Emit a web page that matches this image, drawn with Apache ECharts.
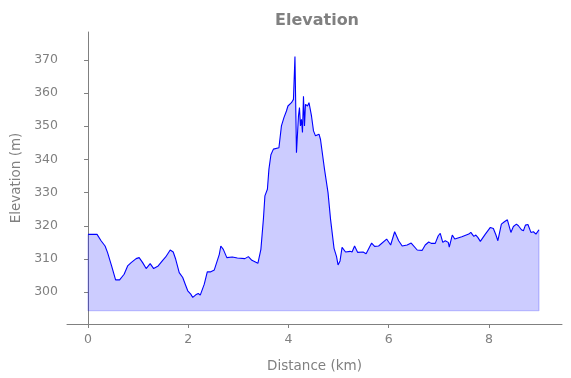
<!DOCTYPE html>
<html>
<head>
<meta charset="utf-8">
<script src="https://cdn.jsdelivr.net/npm/echarts@6/dist/echarts.min.js"></script>
<style>
  html, body { margin: 0; padding: 0; background: #fff; }
  #chart { width: 571px; height: 378px; }
</style>
</head>
<body>
<div id="chart"></div>
<script>
// distance along the track (km)
const distance = [
  0.00, 0.18, 0.26, 0.34, 0.39, 0.47, 0.55, 0.63, 0.72, 0.79, 0.86, 0.96, 1.02, 1.09, 1.16, 1.24,
  1.31, 1.40, 1.49, 1.55, 1.64, 1.70, 1.75, 1.82, 1.89, 1.94, 1.99, 2.05, 2.09, 2.15, 2.20, 2.24,
  2.32, 2.38, 2.44, 2.52, 2.62, 2.65, 2.70, 2.77, 2.88, 2.98, 3.13, 3.20, 3.27, 3.39, 3.45, 3.50,
  3.53, 3.58, 3.61, 3.65, 3.70, 3.81, 3.86, 3.91, 3.96, 3.99, 4.02, 4.06, 4.10, 4.13, 4.16, 4.20,
  4.22, 4.24, 4.26, 4.28, 4.30, 4.32, 4.34, 4.38, 4.41, 4.46, 4.50, 4.54, 4.61, 4.64, 4.72, 4.79,
  4.84, 4.91, 4.96, 4.99, 5.03, 5.07, 5.14, 5.23, 5.27, 5.32, 5.38, 5.49, 5.55, 5.66, 5.72, 5.80,
  5.96, 6.04, 6.12, 6.20, 6.27, 6.37, 6.45, 6.57, 6.67, 6.73, 6.80, 6.85, 6.93, 6.99, 7.03, 7.08,
  7.13, 7.19, 7.21, 7.27, 7.32, 7.46, 7.60, 7.64, 7.70, 7.74, 7.78, 7.83, 7.93, 8.03, 8.09, 8.14,
  8.18, 8.25, 8.31, 8.37, 8.44, 8.49, 8.55, 8.59, 8.65, 8.69, 8.73, 8.76, 8.78, 8.84, 8.89, 8.94,
  9.00
];
// elevation (m)
const elevation = [
  317.4, 317.4, 315.5, 313.9, 311.9, 307.9, 303.7, 303.7, 305.4, 307.9, 308.9, 310.1, 310.4, 308.9, 307.1, 308.6,
  307.1, 307.9, 309.6, 310.6, 312.7, 312.1, 309.9, 305.9, 304.4, 302.4, 300.4, 299.4, 298.4, 299.2, 299.6, 299.1,
  302.4, 306.1, 306.1, 306.7, 311.4, 313.9, 312.9, 310.4, 310.6, 310.3, 310.1, 310.7, 309.6, 308.7, 312.9, 322.0,
  329.0, 331.0, 337.0, 341.4, 343.1, 343.5, 350.1, 352.6, 354.6, 356.1, 355.6, 357.1, 358.1, 371.0, 342.0, 353.1,
  355.6, 350.1, 352.1, 348.1, 359.0, 350.1, 356.6, 356.1, 357.1, 353.1, 348.6, 347.1, 347.6, 346.0, 337.0, 330.0,
  322.0, 313.2, 310.7, 308.2, 309.4, 313.5, 312.1, 312.3, 312.1, 313.9, 312.0, 312.1, 311.6, 314.8, 313.8, 313.9,
  316.0, 314.2, 318.2, 315.5, 313.9, 314.2, 314.8, 312.7, 312.6, 314.2, 315.1, 314.7, 314.7, 317.0, 317.7, 315.0,
  315.5, 315.0, 313.6, 317.2, 316.0, 316.7, 317.5, 318.0, 316.8, 317.2, 316.5, 315.3, 317.5, 319.5, 319.2, 317.3,
  315.5, 320.5, 321.2, 321.8, 318.0, 319.8, 320.5, 320.0, 318.8, 318.5, 320.2, 319.8, 320.4, 318.0, 318.2, 317.5,
  318.8
];
const fillBase = 294.4;
const xTicks = [0, 2, 4, 6, 8];
const yTicks = [300, 310, 320, 330, 340, 350, 360, 370];

const gray = '#808080';
const font = 'DejaVu Sans';

const profile = distance.map((d, i) => [d, elevation[i]]);
const last = distance.length - 1;
// outline of the filled region (left edge, base, right edge)
const fillEdge = [
  [distance[0], elevation[0]],
  [distance[0], fillBase],
  [distance[last], fillBase],
  [distance[last], elevation[last]]
];

const chart = echarts.init(document.getElementById('chart'));
chart.setOption({
  animation: false,
  backgroundColor: '#fff',
  title: {
    text: 'Elevation',
    left: 270,
    top: 8,
    textStyle: { color: gray, fontFamily: font, fontSize: 16, fontWeight: 'bold' }
  },
  grid: { left: 67, right: 9, top: 32, bottom: 53 },
  xAxis: {
    type: 'value',
    min: -0.42,
    max: 9.46,
    name: 'Distance (km)',
    nameLocation: 'middle',
    nameGap: 35,
    nameTextStyle: { color: gray, fontFamily: font, fontSize: 13.5 },
    axisLine: { lineStyle: { color: gray, width: 1 } },
    axisTick: { length: 4, lineStyle: { color: gray }, customValues: xTicks },
    axisLabel: { color: gray, fontFamily: font, fontSize: 12.5, margin: 9, customValues: xTicks },
    splitLine: { show: false }
  },
  yAxis: {
    type: 'value',
    min: 290.4,
    max: 378.4,
    name: 'Elevation (m)',
    nameLocation: 'middle',
    nameGap: 43,
    nameTextStyle: { color: gray, fontFamily: font, fontSize: 13.5 },
    axisLine: { show: true, lineStyle: { color: gray, width: 1 } },
    axisTick: { show: true, length: 4, lineStyle: { color: gray }, customValues: yTicks },
    axisLabel: { color: gray, fontFamily: font, fontSize: 12.5, margin: 9, customValues: yTicks },
    splitLine: { show: false }
  },
  series: [
    {
      type: 'line',
      data: fillEdge,
      symbol: 'none',
      silent: true,
      lineStyle: { color: 'rgba(0,0,255,0.22)', width: 1.2 },
      z: 1
    },
    {
      type: 'line',
      data: profile,
      symbol: 'none',
      lineStyle: { color: '#0000ff', width: 1.1 },
      areaStyle: { color: 'rgba(0,0,255,0.2)', origin: fillBase, opacity: 1 },
      z: 2
    }
  ]
});
</script>
</body>
</html>
